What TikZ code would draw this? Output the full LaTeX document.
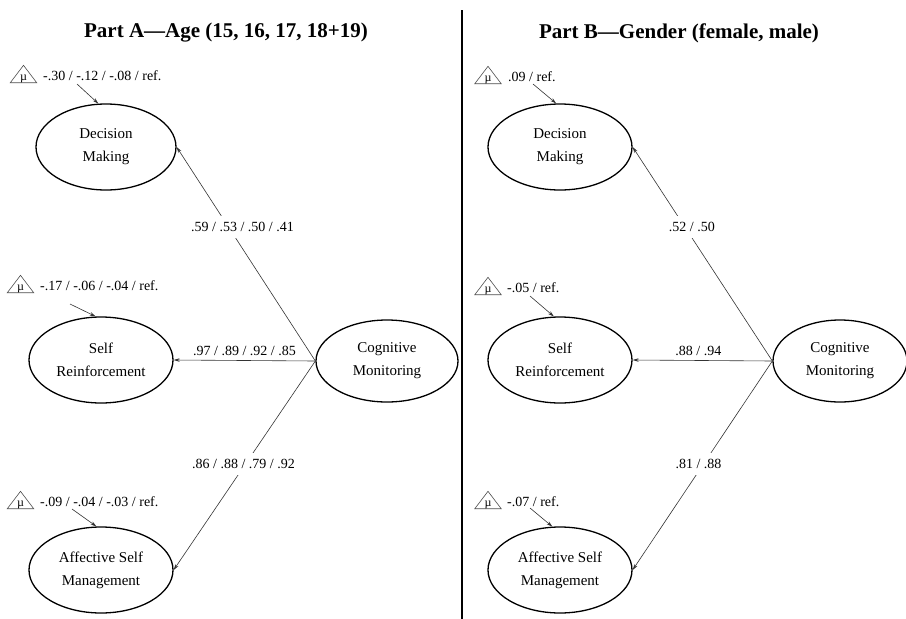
\documentclass[tikz,border=0pt]{standalone}
\usepackage{fontspec}
\setmainfont{Liberation Serif}
\usetikzlibrary{shapes.geometric,arrows.meta}
\begin{document}
\begin{tikzpicture}[x=1pt,y=-1pt,
  lat/.style={ellipse,draw,line width=1.3pt,minimum width=144pt,minimum height=86pt,inner sep=0pt,align=center,font=\fontsize{15}{23}\selectfont},
  pathline/.style={-{Stealth[length=6pt,width=3.5pt]},line width=0.6pt,draw=black!80},
  lab/.style={fill=white,font=\fontsize{14}{16}\selectfont,inner xsep=2pt,inner ysep=6pt},
  meanlab/.style={anchor=west,font=\fontsize{14}{16}\selectfont,inner sep=0pt},
  tribox/.style={minimum width=26pt,minimum height=17pt,inner sep=0pt,
    label={[font=\fontsize{12}{12}\selectfont,inner sep=0pt,anchor=south,yshift=-1pt]south:µ}},
  tri/.style={draw=black!70,line width=0.6pt},
  titletext/.style={font=\fontsize{21}{25}\selectfont\bfseries}
]
\useasboundingbox (0,0) rectangle (906,619);

% titles and divider
\node[titletext] (tA) at (226,33) {Part A—Age (15, 16, 17, 18+19)};
\node[titletext] (tB) at (679,33) {Part B—Gender (female, male)};
\coordinate (dtop) at (462,10);
\coordinate (dbot) at (462,619);
\draw[line width=2.2pt] (dtop) -- (dbot);

% Part A latent variables
\node[lat,minimum width=140pt] (dmA) at (106,147) {Decision\\Making};
\node[lat] (srA) at (101,360) {Self\\Reinforcement};
\node[lat] (asA) at (101,570) {Affective Self\\Management};
\node[lat,minimum width=142pt,minimum height=82pt] (cmA) at (387,361) {Cognitive\\Monitoring};

% Part B latent variables
\node[lat] (dmB) at (560,147) {Decision\\Making};
\node[lat] (srB) at (560,360) {Self\\Reinforcement};
\node[lat] (asB) at (560,570) {Affective Self\\Management};
\node[lat,minimum width=134pt,minimum height=82pt] (cmB) at (840,361) {Cognitive\\Monitoring};

% loadings Part A
\draw[pathline] (cmA.west) -- node[lab,pos=0.626,xshift=14pt] {.59 / .53 / .50 / .41} (dmA.east);
\draw[pathline] (cmA.west) -- node[lab,pos=0.5,yshift=10pt,inner ysep=2pt,fill=none] {.97 / .89 / .92 / .85} (srA.east);
\draw[pathline] (cmA.west) -- node[lab,pos=0.493,xshift=-2pt] {.86 / .88 / .79 / .92} (asA.east);

% loadings Part B
\draw[pathline] (cmB.west) -- node[lab,pos=0.626,xshift=7pt] {.52 / .50} (dmB.east);
\draw[pathline] (cmB.west) -- node[lab,pos=0.53,yshift=10pt,inner ysep=2pt,fill=none] {.88 / .94} (srB.east);
\draw[pathline] (cmB.west) -- node[lab,pos=0.493,xshift=-5pt] {.81 / .88} (asB.east);

% means Part A
\node[tribox] (mA1) at (23.5,74) {};
\node[meanlab] (lA1) at (43,76) {-.30 / -.12 / -.08 / ref.};
\node[tribox] (mA2) at (20.5,284) {};
\node[meanlab] (lA2) at (40,286) {-.17 / -.06 / -.04 / ref.};
\node[tribox] (mA3) at (20.5,500) {};
\node[meanlab] (lA3) at (40,502) {-.09 / -.04 / -.03 / ref.};

% means Part B
\node[tribox] (mB1) at (488,75) {};
\node[meanlab] (lB1) at (508,77) {.09 / ref.};
\node[tribox] (mB2) at (488,286) {};
\node[meanlab] (lB2) at (507,288) {-.05 / ref.};
\node[tribox] (mB3) at (488,500) {};
\node[meanlab] (lB3) at (507,502) {-.07 / ref.};

\foreach \n in {mA1,mA2,mA3,mB1,mB2,mB3}
  \draw[tri] (\n.south west) -- (\n.north) -- (\n.south east) -- cycle;

% mean arrows
\coordinate (tA1) at (77,84);
\coordinate (tA2) at (70,304);
\coordinate (tA3) at (72,509);
\coordinate (tB1) at (533,84);
\coordinate (tB2) at (530,296);
\coordinate (tB3) at (530,508);
\draw[pathline] (tA1) -- (dmA.100);
\draw[pathline] (tA2) -- (srA.97);
\draw[pathline] (tA3) -- (asA.96);
\draw[pathline] (tB1) -- (dmB.95);
\draw[pathline] (tB2) -- (srB.98);
\draw[pathline] (tB3) -- (asB.100);
\end{tikzpicture}
\end{document}
